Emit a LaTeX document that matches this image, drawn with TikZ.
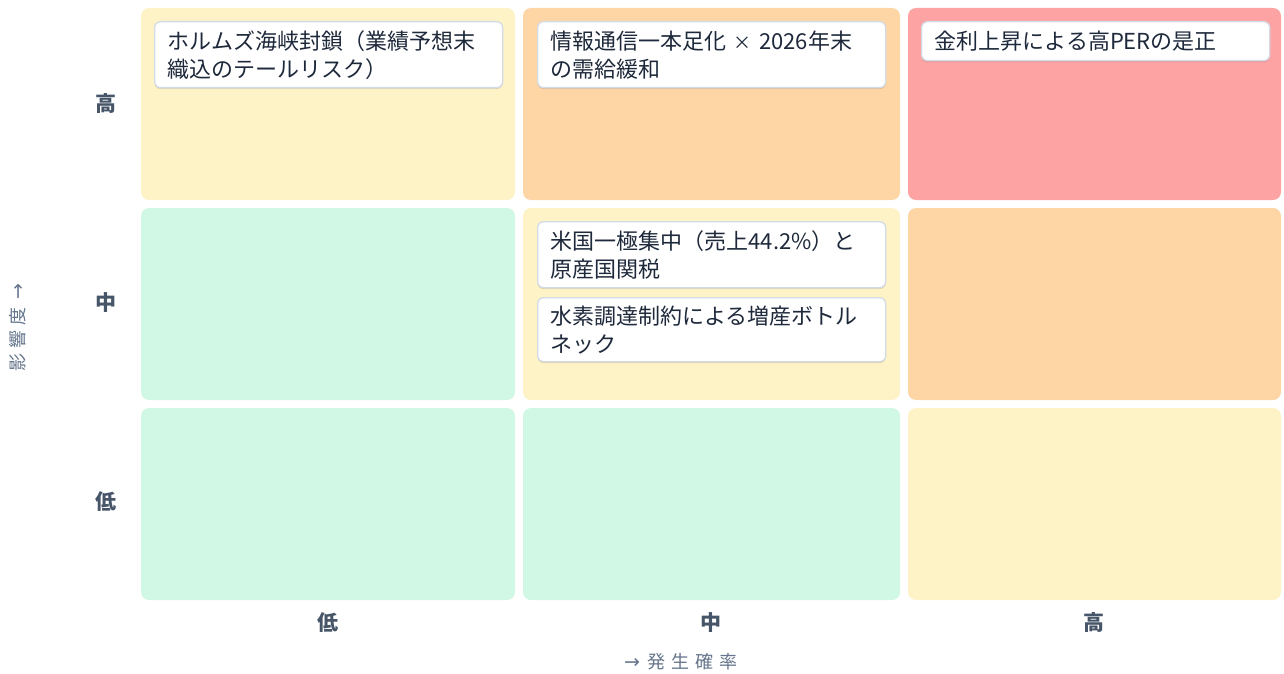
\documentclass[tikz,border=0pt]{standalone}
\usepackage{fontspec}
\setmainfont{Noto Sans CJK JP}
\newfontfamily\arrowfont{DejaVu Sans}
\usetikzlibrary{shadows}
\definecolor{cyel}{HTML}{FEF2C7}
\definecolor{corg}{HTML}{FED6A6}
\definecolor{cred}{HTML}{FEA3A3}
\definecolor{cgrn}{HTML}{D0F8E4}
\definecolor{ctext}{HTML}{1E293B}
\definecolor{clab}{HTML}{475569}
\definecolor{caxis}{HTML}{64748B}
\definecolor{cborder}{HTML}{D3DBE6}
\newcommand{\smarrow}{{\arrowfont\fontsize{19}{20}\selectfont →}}
\begin{document}
\begin{tikzpicture}[x=1pt,y=-1pt,
  cell/.style={rounded corners=8pt, minimum width=374pt, minimum height=192pt, inner sep=0pt},
  card/.style={draw=cborder, line width=1.3pt, fill=white, rounded corners=6pt, anchor=north west,
    text width=322pt, minimum height=66pt, inner xsep=13pt, inner ysep=0pt, align=left,
    font=\fontsize{22}{28}\selectfont, text=ctext,
    drop shadow={shadow xshift=0pt, shadow yshift=-1.5pt, opacity=0.12, fill=black}},
  rowlab/.style={font=\fontsize{21}{24}\selectfont\bfseries, text=clab},
  axlab/.style={font=\fontsize{18}{20}\selectfont, text=caxis}]
\useasboundingbox (0,0) rectangle (1284,674);
% cells
\node[cell, fill=cyel, minimum width=374pt] (c11) at (328,104) {};
\node[cell, fill=corg, minimum width=377pt] (c12) at (711.5,104) {};
\node[cell, fill=cred, minimum width=373pt] (c13) at (1094.5,104) {};
\node[cell, fill=cgrn, minimum width=374pt] (c21) at (328,304) {};
\node[cell, fill=cyel, minimum width=377pt] (c22) at (711.5,304) {};
\node[cell, fill=corg, minimum width=373pt] (c23) at (1094.5,304) {};
\node[cell, fill=cgrn, minimum width=374pt] (c31) at (328,504) {};
\node[cell, fill=cgrn, minimum width=377pt] (c32) at (711.5,504) {};
\node[cell, fill=cyel, minimum width=373pt] (c33) at (1094.5,504) {};
% cards
\node[card] (k1) at (154,21) {ホルムズ海峡封鎖（業績予想末\\織込のテールリスク）};
\node[card] (k2) at (537,21) {情報通信一本足化 {\fontsize{18}{20}\selectfont ×} 2026年末\\の需給緩和};
\node[card, minimum height=39pt] (k3) at (921,21) {金利上昇による高PERの是正};
\node[card] (k4) at (537,221) {米国一極集中（売上44.2\%）と\\原産国関税};
\node[card, minimum height=64pt] (k5) at (537,297) {水素調達制約による増産ボトル\\ネック};
% row labels
\node[rowlab] (r1) at (106,104) {高};
\node[rowlab] (r2) at (106,303) {中};
\node[rowlab] (r3) at (106,502) {低};
% column labels
\node[rowlab] (q1) at (328,623) {低};
\node[rowlab] (q2) at (711,623) {中};
\node[rowlab] (q3) at (1094,623) {高};
% axis titles
\node[axlab] (xt) at (681,662) {\smarrow\hspace{8pt}発\hspace{6pt}生\hspace{6pt}確\hspace{6pt}率};
\node[axlab, rotate=90] (yt) at (18,328) {影\hspace{5pt}響\hspace{5pt}度\hspace{8pt}\smarrow};
\end{tikzpicture}
\end{document}
